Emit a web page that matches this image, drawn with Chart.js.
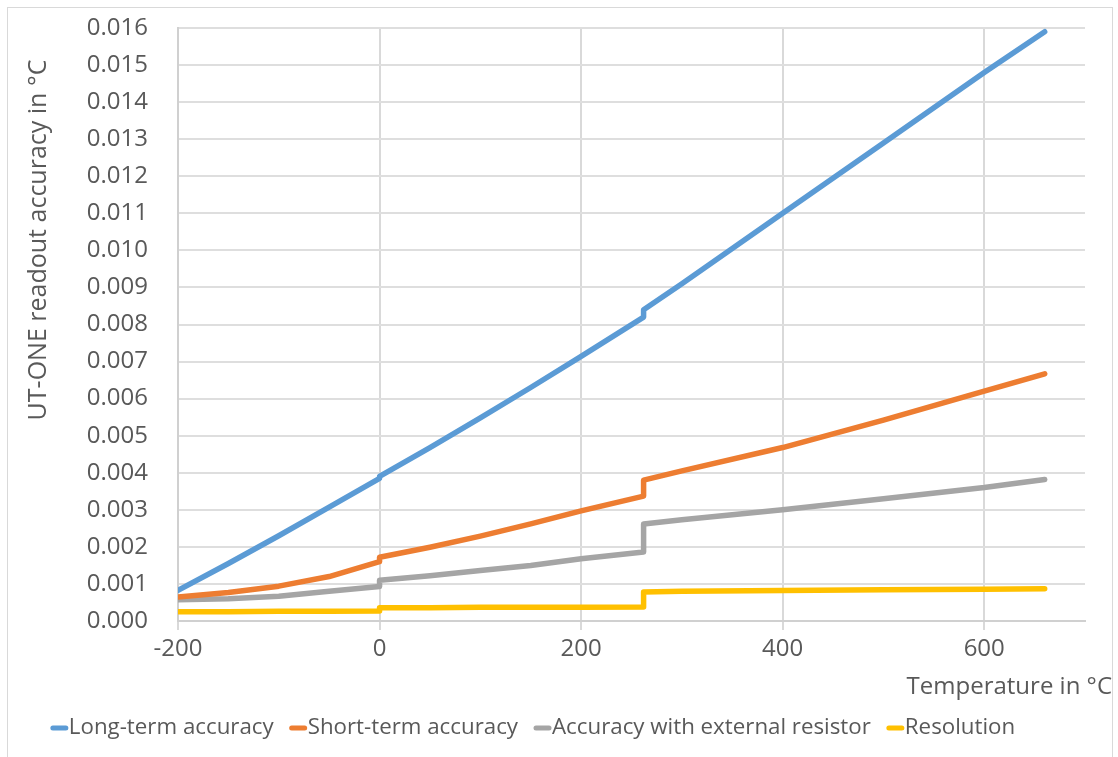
<!DOCTYPE html>
<html>
<head>
<meta charset="utf-8">
<script src="https://cdn.jsdelivr.net/npm/chart.js@4/dist/chart.umd.min.js"></script>
<style>
  body { margin: 0; background: #fff; }
  #wrap { position: relative; width: 1118px; height: 757px; }
</style>
</head>
<body>
<div id="wrap"><canvas id="chart"></canvas></div>
<script>
// temperatures in °C (0 and 262 appear twice: the readout switches range there)
var temps = [-200, -150, -100, -50, 0, 0, 50, 100, 150, 200, 262, 262, 300, 400, 500, 600, 660];

// accuracy values in °C
var longTerm  = [0.00083, 0.00155, 0.0023, 0.00307, 0.00385, 0.0039, 0.00468, 0.00548, 0.0063, 0.00714, 0.0082, 0.0084, 0.0091, 0.0110, 0.0129, 0.0148, 0.0159];
var shortTerm = [0.00065, 0.00077, 0.00094, 0.0012, 0.0016, 0.00172, 0.00199, 0.00229, 0.00262, 0.00297, 0.00337, 0.0038, 0.00405, 0.00468, 0.00542, 0.0062, 0.00667];
var extRes    = [0.00057, 0.0006, 0.00067, 0.0008, 0.00093, 0.0011, 0.00122, 0.00136, 0.0015, 0.00168, 0.00186, 0.00262, 0.00273, 0.0030, 0.0033, 0.0036, 0.00382];
var resolution = [0.00025, 0.00025, 0.00026, 0.00026, 0.00027, 0.00036, 0.00036, 0.00037, 0.00037, 0.00037, 0.00038, 0.00078, 0.0008, 0.00082, 0.00084, 0.00086, 0.00087];

var seriesNames = ["Long-term accuracy", "Short-term accuracy", "Accuracy with external resistor", "Resolution"];
var seriesColours = ["#5b9bd5", "#ed7d31", "#a5a5a5", "#ffc000"];

var xTicks = [-200, 0, 200, 400, 600];

var textColour = "#595959";
var fontName = "'Open Sans', sans-serif";

// turn one series into {x, y} points
var toPoints = function(values) {
  return temps.map(function(t, i) { return {x: t, y: values[i]}; });
};

var makeDataset = function(values, i) {
  return {
    label: seriesNames[i],
    data: toPoints(values),
    borderColor: seriesColours[i],
    backgroundColor: seriesColours[i],
    borderWidth: 5.5,
    borderCapStyle: "round",
    borderJoinStyle: "round",
    pointRadius: 0,
    tension: 0
  };
};

// axis titles, legend and outer frame drawn on top of the chart
var extrasPlugin = {
  id: "extras",
  beforeDraw: function(chart) {
    var ctx = chart.ctx;
    ctx.save();
    ctx.strokeStyle = "#d9d9d9";
    ctx.lineWidth = 1;
    ctx.strokeRect(7.5, 7.5, 1105, 800);
    ctx.restore();
  },
  afterDraw: function(chart) {
    var ctx = chart.ctx;
    var area = chart.chartArea;
    ctx.save();
    ctx.fillStyle = textColour;

    // y title
    ctx.font = "25px " + fontName;
    ctx.textAlign = "center";
    ctx.textBaseline = "middle";
    ctx.translate(39, 240);
    ctx.rotate(-Math.PI / 2);
    ctx.fillText("UT-ONE readout accuracy in \u00b0C", 0, 0);
    ctx.setTransform(1, 0, 0, 1, 0, 0);

    // x title, right aligned just past the plot
    ctx.font = "24px " + fontName;
    ctx.textAlign = "right";
    ctx.fillText("Temperature in \u00b0C", area.right + 27, 687);

    // legend
    ctx.font = "22.3px " + fontName;
    ctx.textAlign = "left";
    var marker = 17, gap = 1, spacing = 16;
    var widths = chart.data.datasets.map(function(ds) {
      return marker + gap + ctx.measureText(ds.label).width;
    });
    var total = widths.reduce(function(a, b) { return a + b; }, 0) + spacing * (widths.length - 1);
    var x = 533 - total / 2;
    var y = 728;
    chart.data.datasets.forEach(function(ds, i) {
      ctx.strokeStyle = ds.borderColor;
      ctx.lineWidth = 5;
      ctx.lineCap = "round";
      ctx.beginPath();
      ctx.moveTo(x + 2, y);
      ctx.lineTo(x + marker - 2, y);
      ctx.stroke();
      ctx.fillText(ds.label, x + marker + gap, y);
      x += widths[i] + spacing;
    });
    ctx.restore();
  }
};

var ctx = document.getElementById("chart").getContext("2d");
var chart = new Chart(ctx, {
  type: "line",
  data: {
    datasets: [longTerm, shortTerm, extRes, resolution].map(makeDataset)
  },
  options: {
    responsive: true,
    maintainAspectRatio: false,
    animation: false,
    layout: { padding: { left: 0, right: 33, top: 28, bottom: 0 } },
    plugins: {
      legend: { display: false },
      tooltip: { enabled: false }
    },
    scales: {
      x: {
        type: "linear",
        min: -200,
        max: 700,
        afterBuildTicks: function(scale) {
          scale.ticks = xTicks.map(function(v) { return {value: v}; });
        },
        afterFit: function(scale) { scale.height = 136; },
        grid: { color: "#d9d9d9", lineWidth: 2, tickLength: 9, drawTicks: true },
        border: { color: "#d0d0d0", width: 2 },
        ticks: {
          color: textColour,
          font: { family: fontName, size: 24 },
          padding: 5,
          maxRotation: 0,
          callback: function(v) { return v; }
        }
      },
      y: {
        min: 0,
        max: 0.016,
        afterFit: function(scale) { scale.width = 178; },
        // invisible tick marks make the gap between labels and plot
        grid: { color: "#dedede", lineWidth: 2, drawTicks: true, tickLength: 30, tickColor: "rgba(0,0,0,0)" },
        border: { color: "#d0d0d0", width: 2 },
        ticks: {
          stepSize: 0.001,
          color: textColour,
          font: { family: fontName, size: 24 },
          padding: 0,
          callback: function(v) { return v.toFixed(3); }
        }
      }
    }
  },
  plugins: [extrasPlugin]
});
</script>
</body>
</html>
